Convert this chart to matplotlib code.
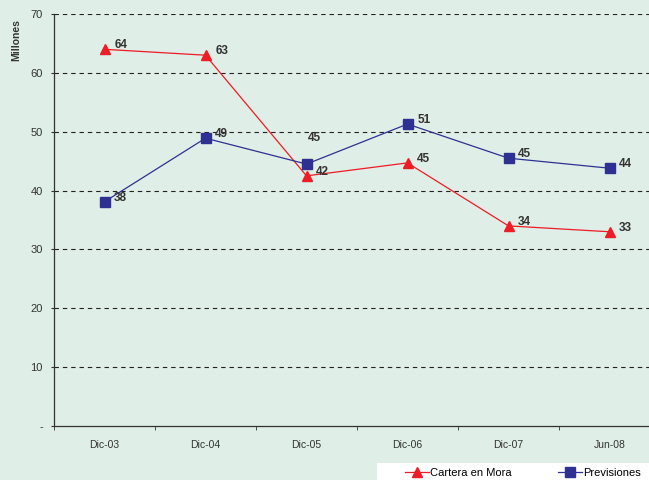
import matplotlib
matplotlib.use('Agg')
import matplotlib.pyplot as plt
from matplotlib.patches import Rectangle

# data
categories = ["Dic-03", "Dic-04", "Dic-05", "Dic-06", "Dic-07", "Jun-08"]
cartera = [64.0, 63.0, 42.5, 44.7, 34.0, 33.0]
cartera_lbl = ["64", "63", "42", "45", "34", "33"]
previsiones = [38.1, 48.9, 44.5, 51.3, 45.5, 43.8]
previsiones_lbl = ["38", "49", "45", "51", "45", "44"]

bg = "#dfeee6"
red = "#ee1c25"
blue = "#2e3192"

plt.rcParams['font.family'] = ['Liberation Sans', 'DejaVu Sans']

fig = plt.figure(figsize=(6.49, 4.8), dpi=100, facecolor=bg)
ax = fig.add_axes([54 / 649, 54 / 480, 606 / 649, 412 / 480], facecolor=bg)

x = range(len(categories))
ax.plot(x, cartera, color=red, lw=0.9, marker="^", ms=7, label="Cartera en Mora")
ax.plot(x, previsiones, color=blue, lw=0.9, marker="s", ms=6.5, label="Previsiones")

# value labels
for i, v in enumerate(cartera):
    ax.annotate(cartera_lbl[i], (i, v), xytext=(7, 3), textcoords="offset points",
                ha="left", va="center", fontsize=8.5, fontweight="bold", color="#333333")
for i, v in enumerate(previsiones):
    off = (1, 19) if i == 2 else (7, 3)
    ax.annotate(previsiones_lbl[i], (i, v), xytext=off, textcoords="offset points",
                ha="left", va="center", fontsize=8.5, fontweight="bold", color="#333333")

ax.set_xlim(-0.5, len(categories) - 0.5)
ax.set_ylim(0, 70)
ax.set_yticks(range(0, 71, 10))
ax.set_yticklabels(["-"] + [str(v) for v in range(10, 71, 10)])
ax.set_xticks(list(x))
ax.set_xticklabels(categories)
ax.set_xticks([i - 0.5 for i in range(len(categories) + 1)], minor=True)
ax.tick_params(axis="x", which="major", length=0, pad=10, labelsize=7.5, labelcolor="#333333")
ax.tick_params(axis="x", which="minor", length=3, color="#333333")
ax.tick_params(axis="y", length=2, pad=6, labelsize=8, labelcolor="#333333", color="#333333")

for yv in range(10, 71, 10):
    ax.axhline(yv, color="#222222", lw=0.8, ls=(0, (4, 3.5)), zorder=0.5)

for s in ["top", "right"]:
    ax.spines[s].set_visible(False)
for s in ["left", "bottom"]:
    ax.spines[s].set_color("#333333")
    ax.spines[s].set_linewidth(0.9)

fig.text(16 / 649, 1 - 40 / 480, "Millones", rotation=90, ha="center", va="center",
         fontsize=7.5, fontweight="bold", color="#333333")

# white legend strip running off the bottom-right corner
fig.patches.append(Rectangle((377 / 649, 0), 1, 17 / 480, transform=fig.transFigure,
                             facecolor="white", edgecolor="none", zorder=1))
leg = fig.legend(loc="lower left", bbox_to_anchor=(401 / 649, -2 / 480), ncol=2,
                 frameon=False, fontsize=8, handlelength=2.2,
                 columnspacing=4.1, borderpad=0.35, handletextpad=0.1,
                 borderaxespad=0)
leg.set_zorder(2)

fig.savefig("out.png", dpi=100, facecolor=bg)
